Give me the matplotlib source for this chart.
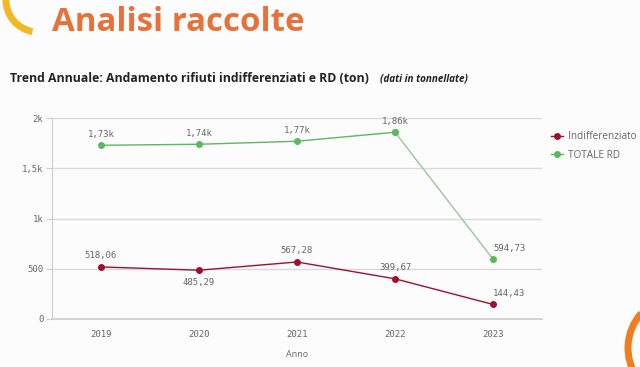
import matplotlib.pyplot as plt
from matplotlib.patches import Arc

years = [2019, 2020, 2021, 2022, 2023]
indiff = [518.06, 485.29, 567.28, 399.67, 144.43]
totale_rd = [1730, 1740, 1770, 1860, 594.73]
indiff_labels = ['518,06', '485,29', '567,28', '399,67', '144,43']
rd_labels = ['1,73k', '1,74k', '1,77k', '1,86k', '594,73']
y_ticks = [0, 500, 1000, 1500, 2000]
y_tick_labels = ['0', '500', '1k', '1,5k', '2k']

RED = '#9e1030'
GREEN = '#5cb85c'
GREY = '#666666'

fig = plt.figure(figsize=(6.4, 3.67), dpi=100)
fig.patch.set_facecolor('#fcfcfc')

# decorations
fig.text(0.081, 0.94, 'Analisi raccolte', fontsize=23.8, fontweight='bold',
         color='#e8713a', family='Open Sans', va='center')
deco = fig.add_axes([0, 0, 1, 1], zorder=-1)
deco.set_xlim(0, 640)
deco.set_ylim(367, 0)
deco.axis('off')
deco.add_patch(Arc((38, 0), 64, 64, theta1=100, theta2=180, color='#f2b724', lw=5))
deco.add_patch(Arc((680, 348), 104, 104, theta1=145, theta2=222, color='#ef7d22', lw=5))

fig.text(0.016, 0.785, 'Trend Annuale: Andamento rifiuti indifferenziati e RD (ton)',
         fontsize=8.8, fontweight='bold', color='#222222', family='Open Sans', va='center')
fig.text(0.593, 0.785, '(dati in tonnellate)', fontsize=7.1, fontweight='bold',
         style='italic', color='#222222', family='Open Sans', va='center')

ax = fig.add_axes([0.081, 0.131, 0.766, 0.547])
ax.set_facecolor('none')

ax.plot(years, indiff, color=RED, lw=1, marker='o', ms=4, label='Indifferenziato')
ax.plot(years[:4], totale_rd[:4], color=GREEN, lw=1, marker='o', ms=4, label='TOTALE RD')
ax.plot(years[3:], totale_rd[3:], color='#9cc49c', lw=1, marker='o', ms=4,
        markerfacecolor=GREEN, markeredgecolor=GREEN)

mono = 'DejaVu Sans Mono'
for i, (x, y, s) in enumerate(zip(years, indiff, indiff_labels)):
    if i == 4:
        ax.annotate(s, (x, y), xytext=(0, 8), textcoords='offset points', ha='left',
                    va='center', fontsize=6.5, family=mono, color=GREY)
    else:
        off = -9 if i == 1 else 8
        ax.annotate(s, (x, y), xytext=(0, off), textcoords='offset points', ha='center',
                    va='center', fontsize=6.5, family=mono, color=GREY)
for i, (x, y, s) in enumerate(zip(years, totale_rd, rd_labels)):
    if i == 4:
        ax.annotate(s, (x, y), xytext=(0, 8), textcoords='offset points', ha='left',
                    va='center', fontsize=6.5, family=mono, color=GREY)
    else:
        ax.annotate(s, (x, y), xytext=(0, 8), textcoords='offset points', ha='center',
                    va='center', fontsize=6.5, family=mono, color=GREY)

ax.set_xlim(2018.5, 2023.5)
ax.set_ylim(0, 2000)
ax.set_xticks(years)
ax.set_xticklabels([str(y) for y in years], family=mono, fontsize=6.5, color=GREY)
ax.set_yticks(y_ticks)
ax.set_yticklabels(y_tick_labels, family=mono, fontsize=6.5, color=GREY)
ax.tick_params(axis='x', length=0, pad=8)
ax.tick_params(axis='y', length=4, color='#cccccc', pad=2)
ax.grid(axis='y', color='#d9d9d9', lw=1)
for side in ['top', 'right']:
    ax.spines[side].set_visible(False)
ax.spines['left'].set_color('#cccccc')
ax.spines['bottom'].set_color('#cccccc')
ax.spines['bottom'].set_linewidth(1.2)
ax.set_xlabel('Anno', fontsize=6.5, color=GREY, family='Open Sans', labelpad=8)

ax.legend(loc='upper left', bbox_to_anchor=(1.0, 0.98), frameon=False,
          labelcolor=GREY, handlelength=1.2, handletextpad=0.5,
          labelspacing=0.75, prop={'family': 'Open Sans', 'size': 7.2})

fig.savefig('out.png', dpi=100, facecolor=fig.get_facecolor())
